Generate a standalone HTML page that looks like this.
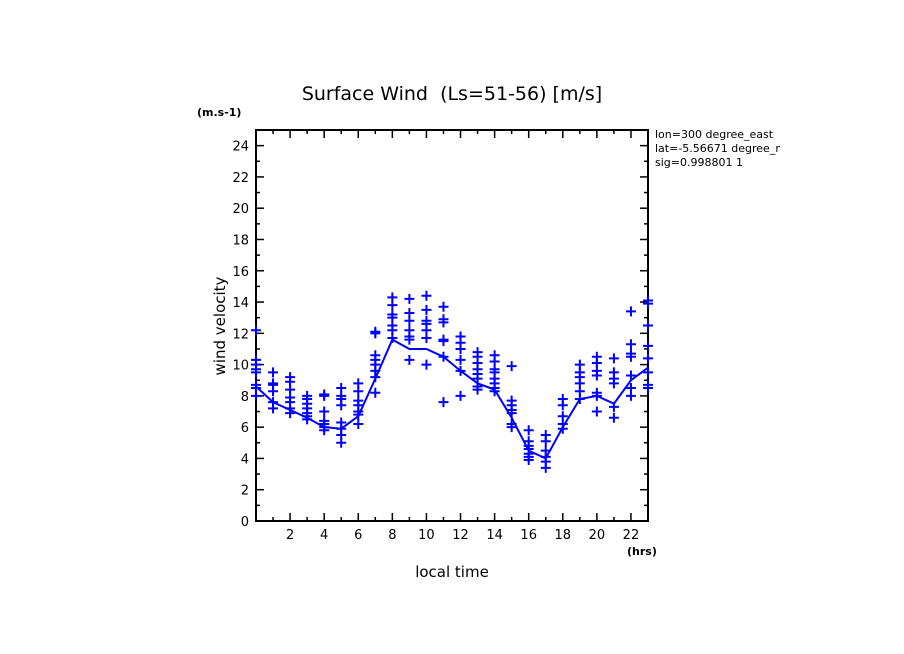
<!DOCTYPE html>
<html><head><meta charset="utf-8"><style>
body{margin:0;background:#fff}
svg{display:block;font-family:"DejaVu Sans","Liberation Sans",sans-serif}
</style></head><body>
<svg id="c" width="904" height="654">
<defs><clipPath id="infoclip"><rect x="650" y="120" width="130" height="60"/></clipPath></defs>
<text x="452" y="100" text-anchor="middle" font-size="19" xml:space="preserve">Surface Wind  (Ls=51-56) [m/s]</text>
<text x="197" y="116" font-size="11" font-weight="bold">(m.s-1)</text>
<g clip-path="url(#infoclip)">
<text x="655" y="138" font-size="11">lon=300 degree_east</text>
<text x="655" y="152" font-size="11">lat=-5.56671 degree_north</text>
<text x="655" y="166" font-size="11">sig=0.998801 1</text>
</g>
<text x="225" y="326" font-size="15" text-anchor="middle" transform="rotate(-90 225 326)">wind velocity</text>
<text x="452" y="577" font-size="15" text-anchor="middle">local time</text>
<text x="627" y="555" font-size="11" font-weight="bold">(hrs)</text>
<g id="axes"></g><g id="marks"></g>
</svg>
<script>
const hours=[0,1,2,3,4,5,6,7,8,9,10,11,12,13,14,15,16,17,18,19,20,21,22,23];
const meanWind=[8.6,7.6,7.1,6.6,6.0,5.9,6.7,9.1,11.6,11.0,11.0,10.5,9.6,8.8,8.4,6.6,4.5,4.0,6.0,7.8,8.0,7.5,9.0,9.8];
const samples=[
[12.2,10.3,10.0,9.7,9.5,8.7,8.5,8.0],
[9.5,8.8,8.7,8.3,7.6,7.2],
[9.2,8.9,8.4,7.9,7.6,7.2,6.9],
[8.0,7.8,7.5,7.2,6.9,6.7,6.5],
[8.1,8.0,7.0,6.4,6.2,6.0,5.8],
[8.5,8.0,7.8,7.4,6.3,5.9,5.5,5.0],
[8.8,8.3,7.7,7.4,7.0,6.8,6.2],
[12.1,12.0,10.6,10.3,10.0,9.6,9.2,8.2],
[14.3,13.8,13.2,13.0,12.5,12.2,11.7],
[14.2,13.3,12.8,12.2,11.8,11.6,10.3],
[14.4,13.5,12.8,12.6,12.2,11.7,10.0],
[13.7,12.9,12.7,11.6,11.5,10.5,7.6],
[11.8,11.4,11.0,10.3,9.6,8.0],
[10.8,10.5,10.1,9.7,9.4,9.1,8.6,8.4],
[10.6,10.2,9.7,9.5,9.1,8.8,8.5,8.3],
[9.9,7.7,7.4,7.1,6.9,6.2,6.0],
[5.8,5.1,4.8,4.6,4.3,4.1,3.9],
[5.5,5.1,4.5,4.1,3.8,3.4],
[7.8,7.4,6.7,6.2,5.9],
[10.0,9.5,9.2,8.8,8.3,7.8],
[10.5,10.1,9.6,9.3,8.2,8.0,7.0],
[10.4,9.5,9.1,8.8,7.3,6.6],
[13.4,11.3,10.7,10.5,9.3,8.5,8.0],
[14.1,13.9,12.5,11.2,10.4,9.5,8.7,8.5]];
const yTicks=[0,2,4,6,8,10,12,14,16,18,20,22,24];
const xTicks=[2,4,6,8,10,12,14,16,18,20,22];
const X0=256,X1=648,Y0=521,Y1=130,XMAX=23,YMAX=25;
const sx=v=>X0+v*(X1-X0)/XMAX, sy=v=>Y0-v*(Y0-Y1)/YMAX;
const NS="http://www.w3.org/2000/svg";
const ax=document.getElementById('axes'), mk=document.getElementById('marks');
function el(t,a,p){const e=document.createElementNS(NS,t);for(const k in a)e.setAttribute(k,a[k]);p.appendChild(e);return e;}
const fr=el('rect',{x:X0,y:Y1,width:X1-X0,height:Y0-Y1,fill:'none',stroke:'#000','stroke-width':2},ax);


for(let v=0;v<=YMAX;v++){const big=v%2==0,l=big?8:4;
el('line',{x1:X0,x2:X0+l,y1:sy(v),y2:sy(v),stroke:'#000','stroke-width':1.5},ax);
el('line',{x1:X1,x2:X1-l,y1:sy(v),y2:sy(v),stroke:'#000','stroke-width':1.5},ax);}
yTicks.forEach(v=>{const t=el('text',{x:X0-7,y:sy(v)+5,'text-anchor':'end','font-size':13},ax);t.textContent=v;

});
for(let h=0;h<=XMAX;h++){const l=h%2==0?8:4;
el('line',{x1:sx(h),x2:sx(h),y1:Y0,y2:Y0-l,stroke:'#000','stroke-width':1.5},ax);
el('line',{x1:sx(h),x2:sx(h),y1:Y1,y2:Y1+l,stroke:'#000','stroke-width':1.5},ax);}
xTicks.forEach(v=>{const t=el('text',{x:sx(v),y:Y0+18,'text-anchor':'middle','font-size':13},ax);t.textContent=v;

});
const ln=el('polyline',{points:hours.map((h,i)=>sx(h)+','+sy(meanWind[i])).join(' '),fill:'none',stroke:'#0000ff','stroke-width':2},mk);


samples.forEach((arr,i)=>arr.forEach(v=>{const x=sx(hours[i]),y=sy(v);
const p=el('path',{d:`M${x-5},${y}H${x+5}M${x},${y-5}V${y+5}`,stroke:'#0000ff','stroke-width':2},mk);

}));
</script>
</body></html>
